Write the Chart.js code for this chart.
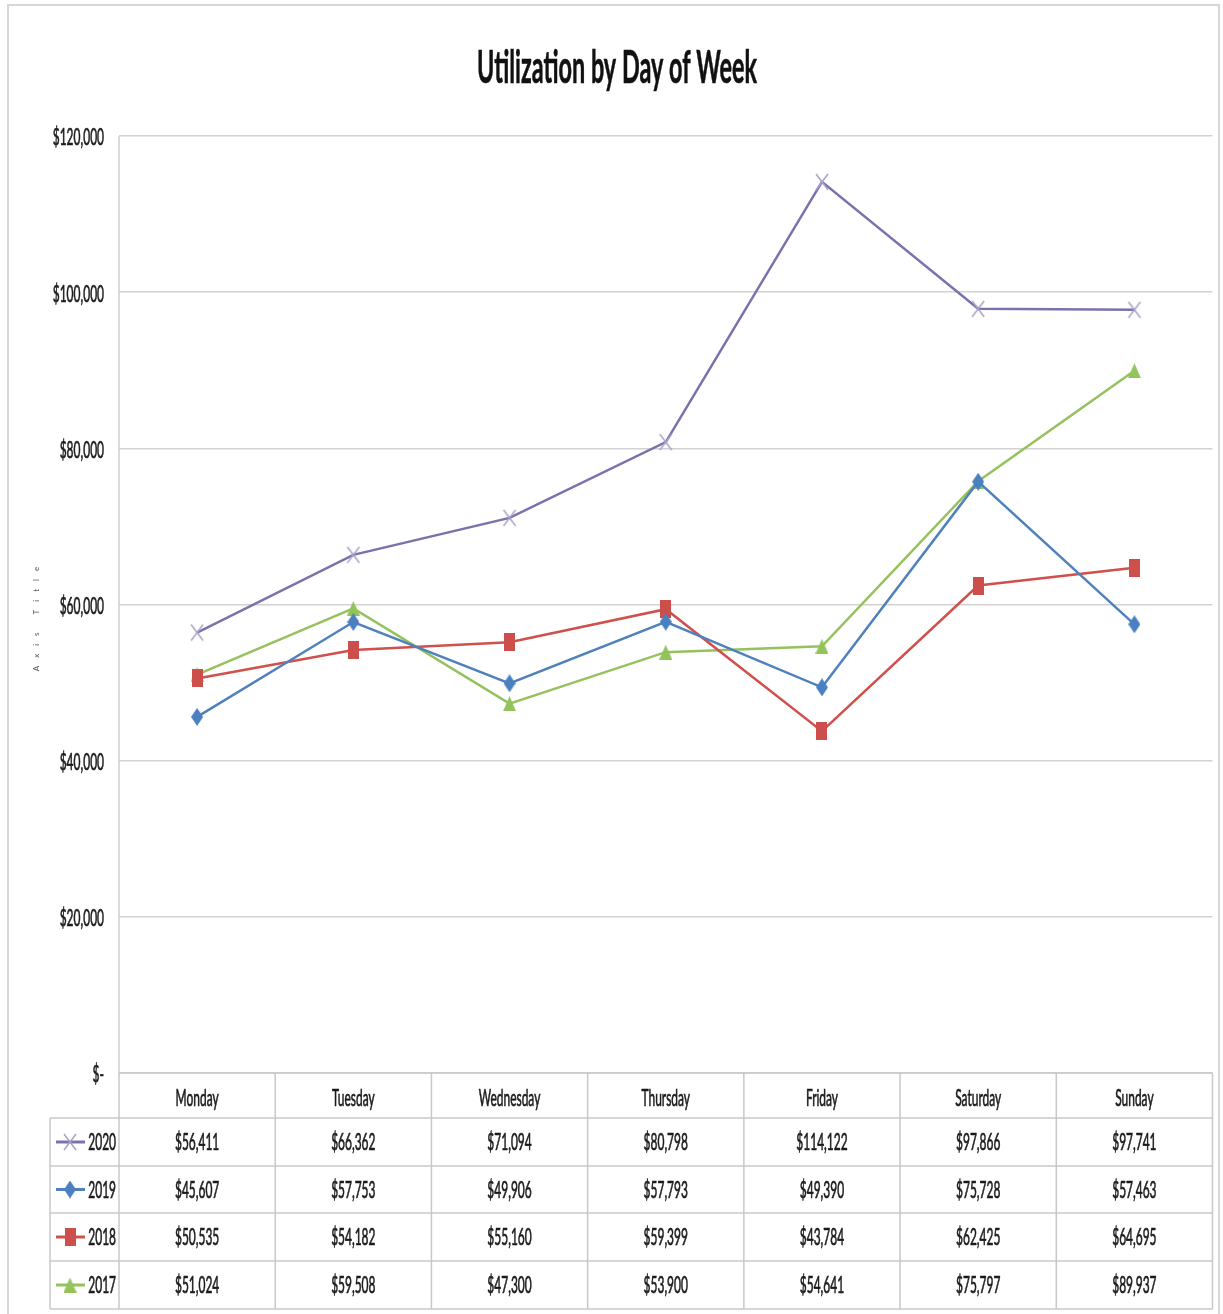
<!DOCTYPE html>
<html>
<head>
<meta charset="utf-8">
<script src="https://cdn.jsdelivr.net/npm/chart.js@4/dist/chart.umd.min.js"></script>
<style>
  html, body { margin: 0; padding: 0; background: #ffffff; }
  #wrap { width: 1223px; height: 1314px; }
</style>
</head>
<body>
<div id="wrap"><canvas id="c" width="1223" height="1314"></canvas></div>
<script>
// Categories and series values
const days = ['Monday', 'Tuesday', 'Wednesday', 'Thursday', 'Friday', 'Saturday', 'Sunday'];
const years = ['2020', '2019', '2018', '2017'];
const v2020 = [56411, 66362, 71094, 80798, 114122, 97866, 97741];
const v2019 = [45607, 57753, 49906, 57793, 49390, 75728, 57463];
const v2018 = [50535, 54182, 55160, 59399, 43784, 62425, 64695];
const v2017 = [51024, 59508, 47300, 53900, 54641, 75797, 89937];
const yTicks = [0, 20000, 40000, 60000, 80000, 100000, 120000];
const titleText = 'Utilization by Day of Week';
const axisTitleText = 'Axis Title';

const FONT = 'Lato, "Open Sans", "DejaVu Sans", sans-serif';
const SX = 0.52;          // horizontal squeeze for the narrow text face
const TEXT = '#1b1b1b';

function money(v) {
  if (v === 0) return '$-';
  return '$' + v.toLocaleString('en-US');
}

// Marker shapes as small canvases
function marker(w, h, draw) {
  const c = document.createElement('canvas');
  c.width = w; c.height = h;
  draw(c.getContext('2d'), w, h);
  return c;
}
const mX = marker(16, 18, (g, w, h) => {
  g.strokeStyle = '#aaa2c8'; g.lineWidth = 1.5;
  g.beginPath(); g.moveTo(2, 1); g.lineTo(w - 2, h - 1); g.moveTo(w - 2, 1); g.lineTo(2, h - 1); g.stroke();
});
const mDiamond = marker(12, 18, (g, w, h) => {
  g.fillStyle = '#4a7fc0';
  g.beginPath(); g.moveTo(w / 2, 0); g.lineTo(w, h / 2); g.lineTo(w / 2, h); g.lineTo(0, h / 2); g.closePath(); g.fill();
});
const mRect = marker(11, 18, (g, w, h) => {
  g.fillStyle = '#cd4f4b'; g.fillRect(0, 0, w, h);
});
const mTri = marker(13, 15, (g, w, h) => {
  g.fillStyle = '#93c35b';
  g.beginPath(); g.moveTo(w / 2, 0); g.lineTo(w, h); g.lineTo(0, h); g.closePath(); g.fill();
});

const series = [
  { label: years[0], data: v2020, color: '#7e70ad', pt: mX },
  { label: years[1], data: v2019, color: '#4f81bd', pt: mDiamond },
  { label: years[2], data: v2018, color: '#d0504c', pt: mRect },
  { label: years[3], data: v2017, color: '#95c25c', pt: mTri }
];

function txt(ctx, s, x, y, size, weight, align, sx, color, stroke) {
  ctx.save();
  ctx.font = `${weight} ${size}px ${FONT}`;
  ctx.fillStyle = color || TEXT;
  ctx.strokeStyle = color || TEXT;
  ctx.textBaseline = 'middle';
  ctx.textAlign = align;
  ctx.translate(x, y);
  ctx.scale(sx, 1);
  ctx.fillText(s, 0, 0);
  if (stroke) { ctx.lineWidth = stroke; ctx.strokeText(s, 0, 0); }
  ctx.restore();
}

// Frame, plot border, title, axis labels and the data table
const decor = {
  id: 'decor',
  beforeDraw(chart) {
    const { ctx } = chart;
    ctx.save();
    ctx.fillStyle = '#fff';
    ctx.fillRect(0, 0, chart.width, chart.height);
    ctx.strokeStyle = '#d6d6d6';
    ctx.lineWidth = 2;
    ctx.strokeRect(8, 5, 1211, 1320);
    ctx.restore();
  },
  beforeDatasetsDraw(chart) {
    const { ctx, chartArea: a } = chart;
    ctx.save();
    ctx.strokeStyle = '#cfcfcf';
    ctx.lineWidth = 1.5;
    ctx.beginPath(); ctx.moveTo(a.left, a.top); ctx.lineTo(a.left, a.bottom); ctx.stroke();
    ctx.restore();
  },
  afterDraw(chart) {
    const { ctx, chartArea: a } = chart;
    const xs = chart.scales.x, ys = chart.scales.y;

    // Title, squeezed to a narrow bold face
    ctx.save();
    ctx.font = `bold 46px ${FONT}`;
    const tw = ctx.measureText(titleText).width;
    ctx.restore();
    txt(ctx, titleText, 617, 68, 46, 'bold', 'center', 280 / tw, '#111', 0.6);

    // Value axis labels
    ys.ticks.forEach(t => {
      const y = ys.getPixelForValue(t.value);
      txt(ctx, money(t.value), a.left - 15, y + 2, 23, 'normal', 'right', SX, TEXT, 0.7);
    });

    // Rotated placeholder axis title
    ctx.save();
    ctx.translate(36, 615);
    ctx.rotate(-Math.PI / 2);
    ctx.font = `8px ${FONT}`;
    ctx.fillStyle = '#555';
    ctx.textAlign = 'center';
    ctx.textBaseline = 'middle';
    if ('letterSpacing' in ctx) ctx.letterSpacing = '8px';
    ctx.fillText(axisTitleText, 0, 0);
    ctx.restore();

    // Data table
    const half = (xs.getPixelForValue(1) - xs.getPixelForValue(0)) / 2;
    const top = a.bottom;
    const rowH = [45, 48, 47, 48, 48];
    const rows = [top];
    rowH.forEach(h => rows.push(rows[rows.length - 1] + h));
    const tableLeft = 50;

    ctx.save();
    ctx.strokeStyle = '#c8c8c8';
    ctx.lineWidth = 1.5;
    // horizontal rules
    rows.forEach((ry, i) => {
      ctx.beginPath();
      ctx.moveTo(i === 0 ? a.left : tableLeft, ry);
      ctx.lineTo(a.right, ry);
      ctx.stroke();
    });
    // vertical rules
    for (let i = 0; i <= days.length; i++) {
      const x = xs.getPixelForValue(0) - half + i * 2 * half;
      ctx.beginPath(); ctx.moveTo(x, rows[0]); ctx.lineTo(x, rows[rows.length - 1]); ctx.stroke();
    }
    ctx.beginPath(); ctx.moveTo(tableLeft, rows[1]); ctx.lineTo(tableLeft, rows[rows.length - 1]); ctx.stroke();
    ctx.restore();

    // header: category names
    days.forEach((d, i) => {
      txt(ctx, d, xs.getPixelForValue(i), (rows[0] + rows[1]) / 2 + 3, 23, 'normal', 'center', SX, TEXT, 0.7);
    });

    // rows: legend key + values
    series.forEach((s, r) => {
      const cy = (rows[r + 1] + rows[r + 2]) / 2;
      ctx.save();
      ctx.strokeStyle = s.color;
      ctx.lineWidth = 3;
      ctx.beginPath(); ctx.moveTo(56, cy); ctx.lineTo(85, cy); ctx.stroke();
      ctx.drawImage(s.pt, 70 - s.pt.width / 2, cy - s.pt.height / 2);
      ctx.restore();
      txt(ctx, s.label, a.left - 3, cy + 1, 23, 'normal', 'right', SX, TEXT, 0.7);
      s.data.forEach((v, i) => {
        txt(ctx, money(v), xs.getPixelForValue(i), cy + 1, 23, 'normal', 'center', SX, TEXT, 0.7);
      });
    });
  }
};

new Chart(document.getElementById('c'), {
  type: 'line',
  data: {
    labels: days,
    datasets: series.map(s => ({
      label: s.label,
      data: s.data,
      borderColor: s.color,
      backgroundColor: s.color,
      borderWidth: 2.5,
      tension: 0,
      pointStyle: s.pt,
      pointRadius: 8,
      fill: false
    }))
  },
  options: {
    responsive: false,
    animation: false,
    events: [],
    layout: { padding: { left: 119, top: 136, right: 10, bottom: 241 } },
    plugins: { legend: { display: false }, title: { display: false }, tooltip: { enabled: false } },
    scales: {
      x: {
        offset: true,
        grid: { display: false, drawTicks: false },
        border: { display: false },
        ticks: { display: false },
        afterFit(s) { s.height = 0; }
      },
      y: {
        min: 0,
        max: 120000,
        afterBuildTicks(s) { s.ticks = yTicks.map(v => ({ value: v })); },
        grid: { color: '#d2d2d2', lineWidth: 1.5, drawTicks: false },
        border: { display: false },
        ticks: { display: false },
        afterFit(s) { s.width = 0; }
      }
    }
  },
  plugins: [decor]
});
</script>
</body>
</html>
